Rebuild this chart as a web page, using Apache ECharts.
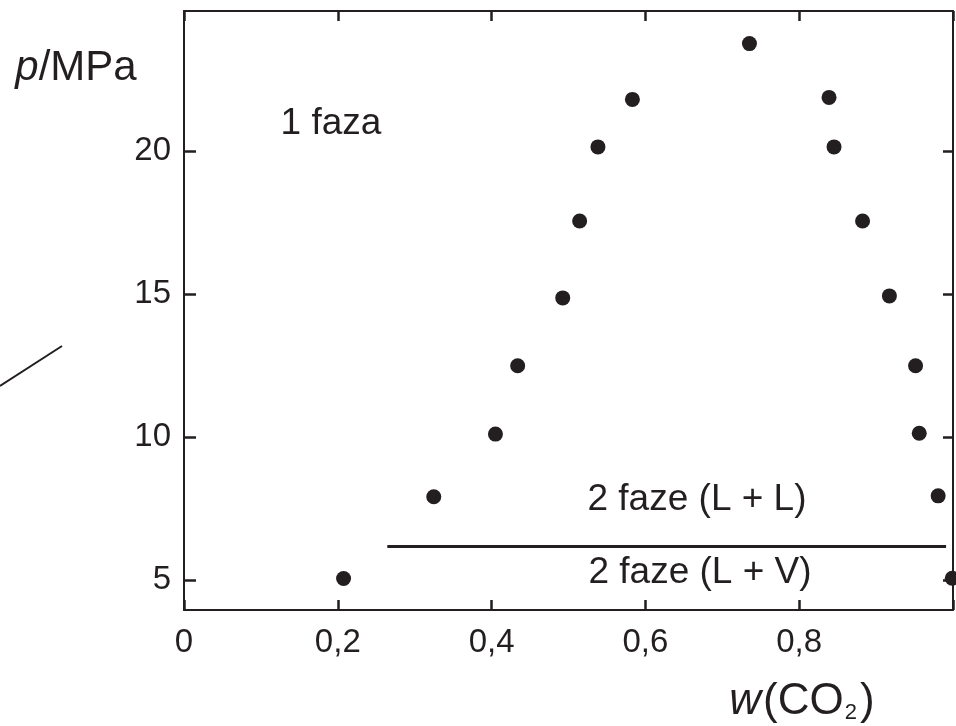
<!DOCTYPE html>
<html>
<head>
<meta charset="utf-8">
<script src="https://cdn.jsdelivr.net/npm/echarts@6/dist/echarts.min.js"></script>
<style>
html,body{margin:0;padding:0;background:#fff;overflow:hidden;}
#chart{width:956px;height:726px;}
</style>
</head>
<body>
<div id="chart"></div>
<script>
// Data: composition w(CO2) vs pressure p/MPa
const leftBranchW = [0.2075, 0.3248, 0.405, 0.4339, 0.4925, 0.5145, 0.5383, 0.5831, 0.7353];
const leftBranchP = [5.06, 7.92, 10.11, 12.50, 14.87, 17.56, 20.15, 21.81, 23.76];
const rightBranchW = [0.8388, 0.8453, 0.8824, 0.9173, 0.9513, 0.9561, 0.9807, 0.999];
const rightBranchP = [21.88, 20.15, 17.56, 14.94, 12.50, 10.14, 7.95, 5.07];
// Separator line between L+L and L+V regions
const separatorW = [0.2644, 0.991];
const separatorP = [6.18, 6.18];
// Tick labels
const xTickLabels = ['0', '0,2', '0,4', '0,6', '0,8', ''];
const yTickValues = [5, 10, 15, 20];

const INK = '#231f20';
const FONT = '"Liberation Sans", Arial, Helvetica, sans-serif';

const points = leftBranchW.map((w, i) => [w, leftBranchP[i]])
  .concat(rightBranchW.map((w, i) => [w, rightBranchP[i]]));
const sepLine = separatorW.map((w, i) => [w, separatorP[i]]);

const chart = echarts.init(document.getElementById('chart'), null, {renderer: 'canvas'});

const yMin = 3.96, yMax = 24.9;

const option = {
  animation: false,
  backgroundColor: '#fff',
  grid: {left: 184, right: 1, top: 11, bottom: 116, containLabel: false},
  xAxis: [{
    type: 'value', min: 0, max: 1, interval: 0.2, position: 'bottom',
    axisLine: {show: true, onZero: false, lineStyle: {color: INK, width: 2}},
    axisTick: {show: true, inside: true, length: 10, lineStyle: {color: INK, width: 2.5}},
    axisLabel: {
      show: true, margin: 16, color: INK, fontFamily: FONT, fontSize: 33,
      formatter: (v) => xTickLabels[Math.round(v / 0.2)]
    },
    splitLine: {show: false}
  }, {
    type: 'value', min: 0, max: 1, interval: 0.2, position: 'top',
    axisLine: {show: true, onZero: false, lineStyle: {color: INK, width: 2}},
    axisTick: {show: true, inside: true, length: 10, lineStyle: {color: INK, width: 2.5}},
    axisLabel: {show: false},
    splitLine: {show: false}
  }],
  yAxis: [{
    type: 'value', min: yMin, max: yMax, position: 'left',
    axisLine: {show: true, onZero: false, lineStyle: {color: INK, width: 2}},
    axisTick: {show: true, inside: true, length: 12, customValues: yTickValues, lineStyle: {color: INK, width: 2.5}},
    axisLabel: {show: true, margin: 13, color: INK, fontFamily: FONT, fontSize: 33, customValues: yTickValues},
    splitLine: {show: false}
  }, {
    type: 'value', min: yMin, max: yMax, position: 'right',
    axisLine: {show: true, onZero: false, lineStyle: {color: INK, width: 2}},
    axisTick: {show: true, inside: true, length: 10, customValues: yTickValues, lineStyle: {color: INK, width: 2.5}},
    axisLabel: {show: false, customValues: yTickValues},
    splitLine: {show: false}
  }],
  series: [{
    type: 'scatter',
    data: points,
    symbol: 'circle',
    symbolSize: [15, 15],
    itemStyle: {color: INK, opacity: 1},
    clip: false,
    z: 5
  }, {
    type: 'line',
    data: sepLine,
    symbol: 'none',
    lineStyle: {color: INK, width: 3},
    z: 4
  }],
  graphic: [
    {type: 'line', shape: {x1: 0, y1: 386, x2: 62, y2: 346}, style: {stroke: INK, lineWidth: 2}},
    {type: 'text', x: 76, y: 68, style: {
      text: '{i|p}/MPa', x: 0, y: 0, align: 'center', verticalAlign: 'middle',
      fill: INK, font: '42px ' + FONT,
      rich: {i: {fontStyle: 'italic', fontSize: 42, fontFamily: FONT, fill: INK}}
    }},
    {type: 'text', x: 331, y: 124, style: {
      text: '1 faza', align: 'center', verticalAlign: 'middle', fill: INK, font: '37px ' + FONT
    }},
    {type: 'text', x: 697, y: 500, style: {
      text: '2 faze (L + L)', align: 'center', verticalAlign: 'middle', fill: INK, font: '37px ' + FONT
    }},
    {type: 'text', x: 700, y: 573, style: {
      text: '2 faze (L + V)', align: 'center', verticalAlign: 'middle', fill: INK, font: '37px ' + FONT
    }},
    {type: 'text', x: 802, y: 702, style: {
      text: '{i|w}(CO{s|2})', align: 'center', verticalAlign: 'middle', fill: INK, font: '44px ' + FONT,
      rich: {
        i: {fontStyle: 'italic', fontSize: 44, fontFamily: FONT, fill: INK, padding: [0, 2, 0, 0]},
        s: {fontSize: 22, fontFamily: FONT, fill: INK, verticalAlign: 'bottom', padding: [17, 3, 0, 1]}
      }
    }}
  ]
};
chart.setOption(option);
</script>
</body>
</html>
